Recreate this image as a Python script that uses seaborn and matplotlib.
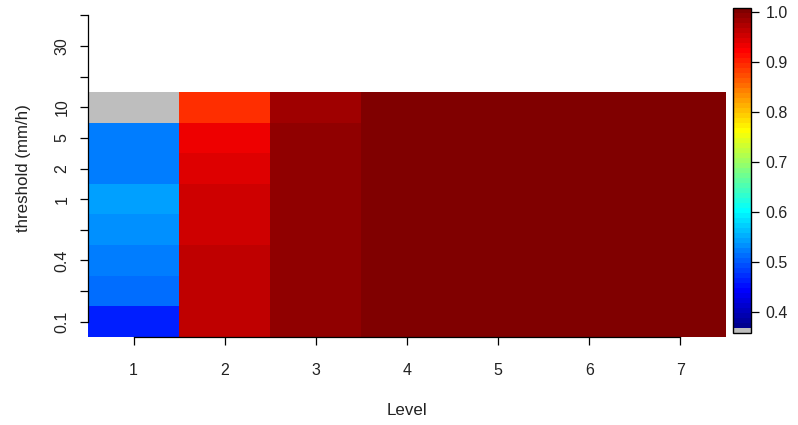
import numpy as np
import pandas as pd
import matplotlib
matplotlib.use("Agg")
import matplotlib.pyplot as plt
import seaborn as sns
from matplotlib.colors import LinearSegmentedColormap, ListedColormap

nan = np.nan

# Levels (columns) and rain-rate thresholds (rows, lowest first)
levels = [1, 2, 3, 4, 5, 6, 7]
thresholds = [0.1, 0.2, 0.4, 0.7, 1, 2, 5, 10, 20, 30, 50]
threshold_labels = ["0.1", "", "0.4", "", "1", "2", "5", "10", "", "30", ""]

# Score for each level, listed from the lowest to the highest threshold (NaN = no data)
level_1 = [0.46, 0.51, 0.52, 0.53, 0.54, 0.52, 0.52, 0.36, nan, nan, nan]
level_2 = [0.96, 0.96, 0.96, 0.95, 0.95, 0.94, 0.93, 0.89, nan, nan, nan]
level_3 = [0.99, 0.99, 0.99, 0.99, 0.99, 0.99, 0.99, 0.98, nan, nan, nan]
level_4 = [1.00, 1.00, 1.00, 1.00, 1.00, 1.00, 1.00, 1.00, nan, nan, nan]
level_5 = [1.00, 1.00, 1.00, 1.00, 1.00, 1.00, 1.00, 1.00, nan, nan, nan]
level_6 = [1.00, 1.00, 1.00, 1.00, 1.00, 1.00, 1.00, 1.00, nan, nan, nan]
level_7 = [1.00, 1.00, 1.00, 1.00, 1.00, 1.00, 1.00, 1.00, nan, nan, nan]

colorbar_ticks = [0.4, 0.5, 0.6, 0.7, 0.8, 0.9, 1.0]
z_min, z_max = 0.358, 1.008

# Table: rows from highest threshold (top) to lowest (bottom)
table = pd.DataFrame(
    {lv: vals for lv, vals in zip(levels, [level_1, level_2, level_3, level_4,
                                            level_5, level_6, level_7])},
    index=thresholds,
).iloc[::-1]

# 64-step rainbow palette (dark blue -> dark red) with a grey bottom bin
rainbow = LinearSegmentedColormap.from_list(
    "rainbow64",
    [(0.0, "#00008F"), (7 / 63, "#0000FF"), (23 / 63, "#00FFFF"),
     (39 / 63, "#FFFF00"), (55 / 63, "#FF0000"), (1.0, "#800000")],
)
palette = ["#BEBEBE"] + [rainbow(i / 63) for i in range(64)]
cmap = ListedColormap(palette)

plt.rcParams["font.family"] = ["Liberation Sans", "DejaVu Sans"]

fig = plt.figure(figsize=(7.98, 4.25), dpi=100)
ax = fig.add_axes([88 / 798, 88 / 425, 638 / 798, 337 / 425])
cax = fig.add_axes([733 / 798, 92 / 425, 18 / 798, 325 / 425])

sns.heatmap(table, ax=ax, cmap=cmap, vmin=z_min, vmax=z_max, cbar_ax=cax,
            xticklabels=levels, yticklabels=False)

n_rows = len(thresholds)
ax.set_ylim(n_rows, 0)
ax.set_xlim(0, len(levels))

ytick_pos = [i + 0.5 for i in range(n_rows)]
ax.set_yticks(ytick_pos)
ax.set_yticklabels(threshold_labels[::-1], rotation=90, va="center")
ax.set_xticks([i + 0.5 for i in range(len(levels))])
ax.set_xticklabels(levels, rotation=0)

for side in ("left", "bottom"):
    ax.spines[side].set_visible(True)
    ax.spines[side].set_color("black")
    ax.spines[side].set_linewidth(0.9)
ax.spines["left"].set_bounds(0.5, n_rows - 0.5)
ax.spines["bottom"].set_bounds(0.5, len(levels) - 0.5)

ax.tick_params(axis="both", direction="out", length=5.5, width=0.9,
               color="black", labelsize=11.5, labelcolor="#222222")
ax.tick_params(axis="y", pad=8)
ax.tick_params(axis="x", pad=13)
ax.set_xlabel("Level", fontsize=12.2, color="#222222", labelpad=18)
ax.set_ylabel("threshold (mm/h)", fontsize=12.2, color="#222222", labelpad=17)

cbar = ax.collections[0].colorbar
cbar.outline.set_visible(True)
cbar.outline.set_linewidth(1.0)
cbar.outline.set_edgecolor("black")
cbar.set_ticks(colorbar_ticks)
cbar.set_ticklabels([f"{t:.1f}" for t in colorbar_ticks])
cax.tick_params(direction="out", length=5.5, width=0.9, color="black",
                labelsize=11.5, labelcolor="#222222", pad=5)

fig.savefig("out.png", dpi=100)
